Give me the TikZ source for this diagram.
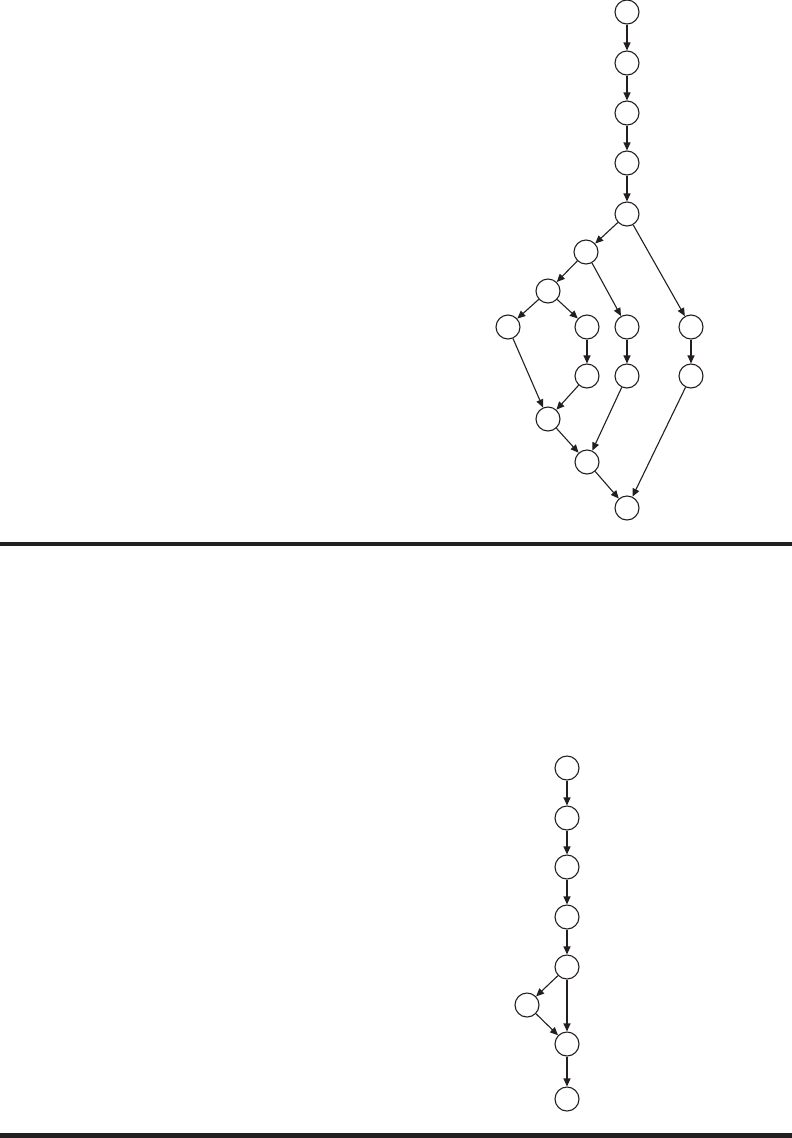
\documentclass[tikz,border=0pt]{standalone}
\usetikzlibrary{arrows.meta}
\usepackage{xcolor}
\definecolor{ink}{HTML}{231F20}

\begin{document}
\begin{tikzpicture}[x=1pt,y=-1pt]
		\tikzset{vertex/.style = {shape=circle,draw=ink,line width=1.1pt,minimum size=24pt,inner sep=0pt}}
		\tikzset{edge/.style = {->,draw=ink,line width=1.1pt,> = {Triangle[length=8pt,width=7pt]}}}
		\useasboundingbox (0,0) rectangle (792,1138);
		%top graph
		\node[vertex] (t0) at (627, 12) {};
		\node[vertex] (t1) at (627, 63) {};
		\node[vertex] (t2) at (627, 113) {};
		\node[vertex] (t3) at (627, 163) {};
		\node[vertex] (t4) at (627, 214) {};
		\node[vertex] (t5) at (586, 252) {};
		\node[vertex] (t6) at (548, 291) {};
		\node[vertex] (t7) at (508, 327) {};
		\node[vertex] (t8) at (587, 327) {};
		\node[vertex] (t9) at (627, 327) {};
		\node[vertex] (t10) at (691, 327) {};
		\node[vertex] (t11) at (587, 376) {};
		\node[vertex] (t12) at (627, 376) {};
		\node[vertex] (t13) at (691, 376) {};
		\node[vertex] (t14) at (548, 419) {};
		\node[vertex] (t15) at (587, 462) {};
		\node[vertex] (t16) at (627, 508) {};
		%edges
		\draw[edge] (t0) to (t1);
		\draw[edge] (t1) to (t2);
		\draw[edge] (t2) to (t3);
		\draw[edge] (t3) to (t4);
		\draw[edge] (t4) to (t5);
		\draw[edge] (t4) to (t10);
		\draw[edge] (t5) to (t6);
		\draw[edge] (t5) to (t9);
		\draw[edge] (t6) to (t7);
		\draw[edge] (t6) to (t8);
		\draw[edge] (t7) to (t14);
		\draw[edge] (t8) to (t11);
		\draw[edge] (t11) to (t14);
		\draw[edge] (t9) to (t12);
		\draw[edge] (t12) to (t15);
		\draw[edge] (t14) to (t15);
		\draw[edge] (t10) to (t13);
		\draw[edge] (t13) to (t16);
		\draw[edge] (t15) to (t16);
		%rule
		\fill[ink] (0,542) rectangle (792,546);
		%bottom graph
		\node[vertex] (b0) at (567, 768) {};
		\node[vertex] (b1) at (567, 818) {};
		\node[vertex] (b2) at (567, 867) {};
		\node[vertex] (b3) at (567, 917) {};
		\node[vertex] (b4) at (567, 967) {};
		\node[vertex] (b5) at (527, 1005) {};
		\node[vertex] (b6) at (567, 1044) {};
		\node[vertex] (b7) at (567, 1099) {};
		%edges
		\draw[edge] (b0) to (b1);
		\draw[edge] (b1) to (b2);
		\draw[edge] (b2) to (b3);
		\draw[edge] (b3) to (b4);
		\draw[edge] (b4) to (b5);
		\draw[edge] (b4) to (b6);
		\draw[edge] (b5) to (b6);
		\draw[edge] (b6) to (b7);
		%rule
		\fill[ink] (0,1133) rectangle (792,1138);
		\end{tikzpicture}
\end{document}
